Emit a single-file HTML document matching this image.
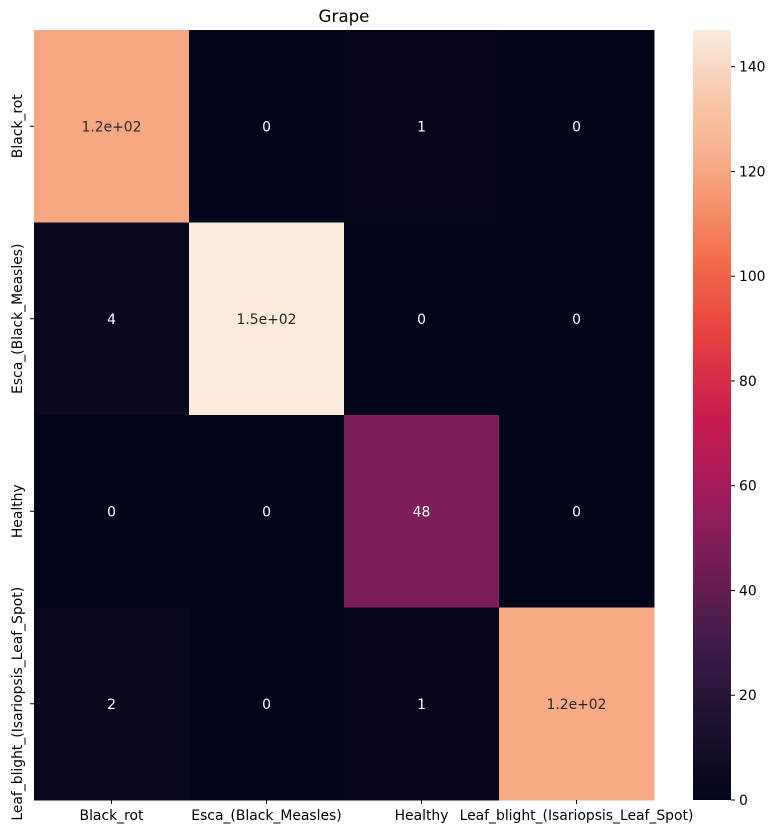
<!DOCTYPE html>
<html><head><meta charset="utf-8"><style>
body{margin:0;background:#fff;font-family:"Liberation Sans","DejaVu Sans",sans-serif;}
svg text{font-family:"DejaVu Sans","Liberation Sans",sans-serif;}
</style></head><body>
<svg id="chart" width="777" height="834" xmlns="http://www.w3.org/2000/svg">
<text x="344" y="22" text-anchor="middle" font-size="16.7" fill="#000">Grape</text>
<g id="cells"></g><g id="xt"></g><g id="yt"></g><g id="cb"></g>
</svg>
<script>
const categories = ["Black_rot","Esca_(Black_Measles)","Healthy","Leaf_blight_(Isariopsis_Leaf_Spot)"];
const row0 = [120, 0, 1, 0];
const row1 = [4, 147, 0, 0];
const row2 = [0, 0, 48, 0];
const row3 = [2, 0, 1, 121];
const labels0 = ["1.2e+02","0","1","0"];
const labels1 = ["4","1.5e+02","0","0"];
const labels2 = ["0","0","48","0"];
const labels3 = ["2","0","1","1.2e+02"];
const cbTicks = [0,20,40,60,80,100,120,140];
const vmin = 0, vmax = 147;

const rows=[row0,row1,row2,row3], labs=[labels0,labels1,labels2,labels3];
const NS="http://www.w3.org/2000/svg";
const L=34,R=654,T=30,B=800;
const FS=13.9;
const cw=(R-L)/categories.length, ch=(B-T)/categories.length;
const xs=i=>L+i*cw, ys=i=>T+i*ch;
const stops=[[0,[3,5,26]],[0.1,[30,17,50]],[0.2,[62,26,72]],[0.33,[128,30,90]],[0.4,[161,26,91]],[0.5,[203,27,79]],[0.6,[232,63,63]],[0.7,[242,107,73]],[0.75,[244,135,95]],[0.82,[246,169,133]],[0.9,[247,196,164]],[1,[250,235,221]]];
function cmap(v){let t=(v-vmin)/(vmax-vmin);t=Math.max(0,Math.min(1,t));
for(let i=1;i<stops.length;i++){if(t<=stops[i][0]){const a=stops[i-1],b=stops[i];const f=(t-a[0])/(b[0]-a[0]);
const c=a[1].map((x,k)=>Math.round(x+(b[1][k]-x)*f));return `rgb(${c})`;}}return "rgb(250,235,221)";}
function el(tag,attrs,parent){const e=document.createElementNS(NS,tag);for(const k in attrs)e.setAttribute(k,attrs[k]);parent.appendChild(e);return e;}
const cells=document.getElementById('cells');
rows.forEach((r,i)=>r.forEach((v,j)=>{
 const rc=el('rect',{x:xs(j),y:ys(i),width:cw+0.5,height:ch+0.5,fill:cmap(v)},cells);
 
 
 const t=el('text',{x:xs(j)+cw/2,y:ys(i)+ch/2+5,'text-anchor':'middle','font-size':FS,fill:(v-vmin)/(vmax-vmin)>0.6?'#262626':'#fff'},cells);
 t.textContent=labs[i][j];
 
 
}));
const xt=document.getElementById('xt'),yt=document.getElementById('yt');
categories.forEach((c,i)=>{
 el('line',{x1:xs(i)+cw/2,x2:xs(i)+cw/2,y1:B,y2:B+4,stroke:'#000'},xt);
 const t=el('text',{x:xs(i)+cw/2,y:B+20,'text-anchor':'middle','font-size':FS,fill:'#000'},xt);
 t.textContent=c;
 
 
 const cy=ys(i)+ch/2;
 el('line',{x1:L-4,x2:L,y1:cy,y2:cy,stroke:'#000'},yt);
 const u=el('text',{x:0,y:0,'text-anchor':'middle','font-size':FS,fill:'#000',transform:`translate(22,${cy}) rotate(-90)`},yt);
 u.textContent=c;
 
 
});
const cb=document.getElementById('cb');
const CX=693,CW=38;
const defs=el('defs',{},cb);
const g=el('linearGradient',{id:'cg',x1:0,y1:1,x2:0,y2:0},defs);
for(let k=0;k<=40;k++){el('stop',{offset:k/40,'stop-color':cmap(vmin+(vmax-vmin)*k/40)},g);}
const bar=el('rect',{x:CX,y:T,width:CW,height:B-T,fill:'url(#cg)'},cb);


const cyv=v=>B-(v-vmin)/(vmax-vmin)*(B-T);
cbTicks.forEach(v=>{
 el('line',{x1:CX+CW,x2:CX+CW+4,y1:cyv(v),y2:cyv(v),stroke:'#000'},cb);
 const t=el('text',{x:CX+CW+8,y:cyv(v)+5,'font-size':FS,fill:'#000'},cb);
 t.textContent=v;
 
 
});
</script>
</body></html>
